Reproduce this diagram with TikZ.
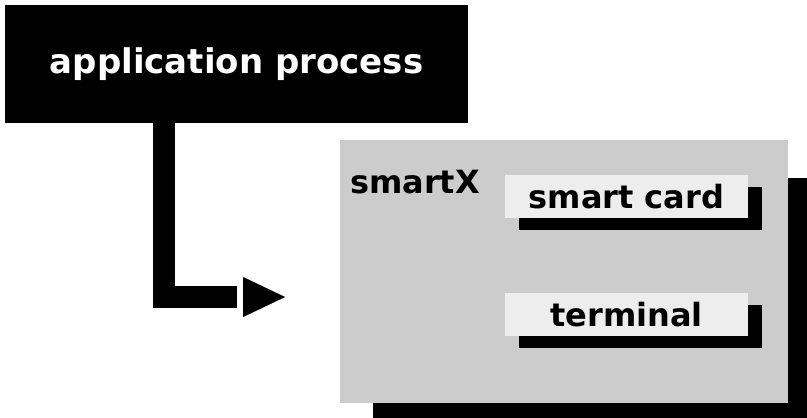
\documentclass[tikz,border=0pt]{standalone}
\usepackage{fontspec}
\setmainfont{DejaVu Sans}
\usepackage{tikz}
\usetikzlibrary{arrows.meta,positioning,shadows}
\definecolor{panelgrey}{gray}{0.8}
\definecolor{cardgrey}{gray}{0.93}

\begin{document}
\begin{tikzpicture}[x=1pt, y=-1pt,
  proc/.style={rectangle, fill=black, text=white, minimum width=463pt, minimum height=118pt,
    inner sep=0pt, font=\fontsize{34}{40}\selectfont\bfseries},
  panel/.style={rectangle, fill=panelgrey, minimum width=448pt, minimum height=263pt,
    drop shadow={shadow xshift=33pt, shadow yshift=-38pt, fill=black, opacity=1}},
  card/.style={rectangle, fill=cardgrey, minimum width=243pt, minimum height=43pt, inner sep=0pt,
    font=\fontsize{32}{38}\selectfont\bfseries,
    drop shadow={shadow xshift=14pt, shadow yshift=-12pt, fill=black, opacity=1}},
  bar/.style={line width=22pt, black, line join=miter},
  head/.style={draw=white, line width=0.1pt, -{Triangle[length=42pt,width=40pt,color=black]}}]
\useasboundingbox (0,0) rectangle (807,418);
\node[proc] (app) at (236.5,64) {application process};
\node[panel] (smart) at (564,271.5) {};
\node[anchor=base west, inner sep=0pt, font=\fontsize{32}{38}\selectfont\bfseries] (smartx) at (350,193) {smartX};
\node[card] (card) at (626.5,196.5) {smart card};
\node[card, below=75pt of card] (term) {terminal};
% L-shaped connector into the panel
\coordinate (bend) at (164,297);
\coordinate (stub) at (237,297);
\coordinate (tip) at (285,297);
\draw[bar] (app.south -| bend) -- (bend) -- (stub);
\draw[head] (stub) -- (tip);
\end{tikzpicture}
\end{document}
